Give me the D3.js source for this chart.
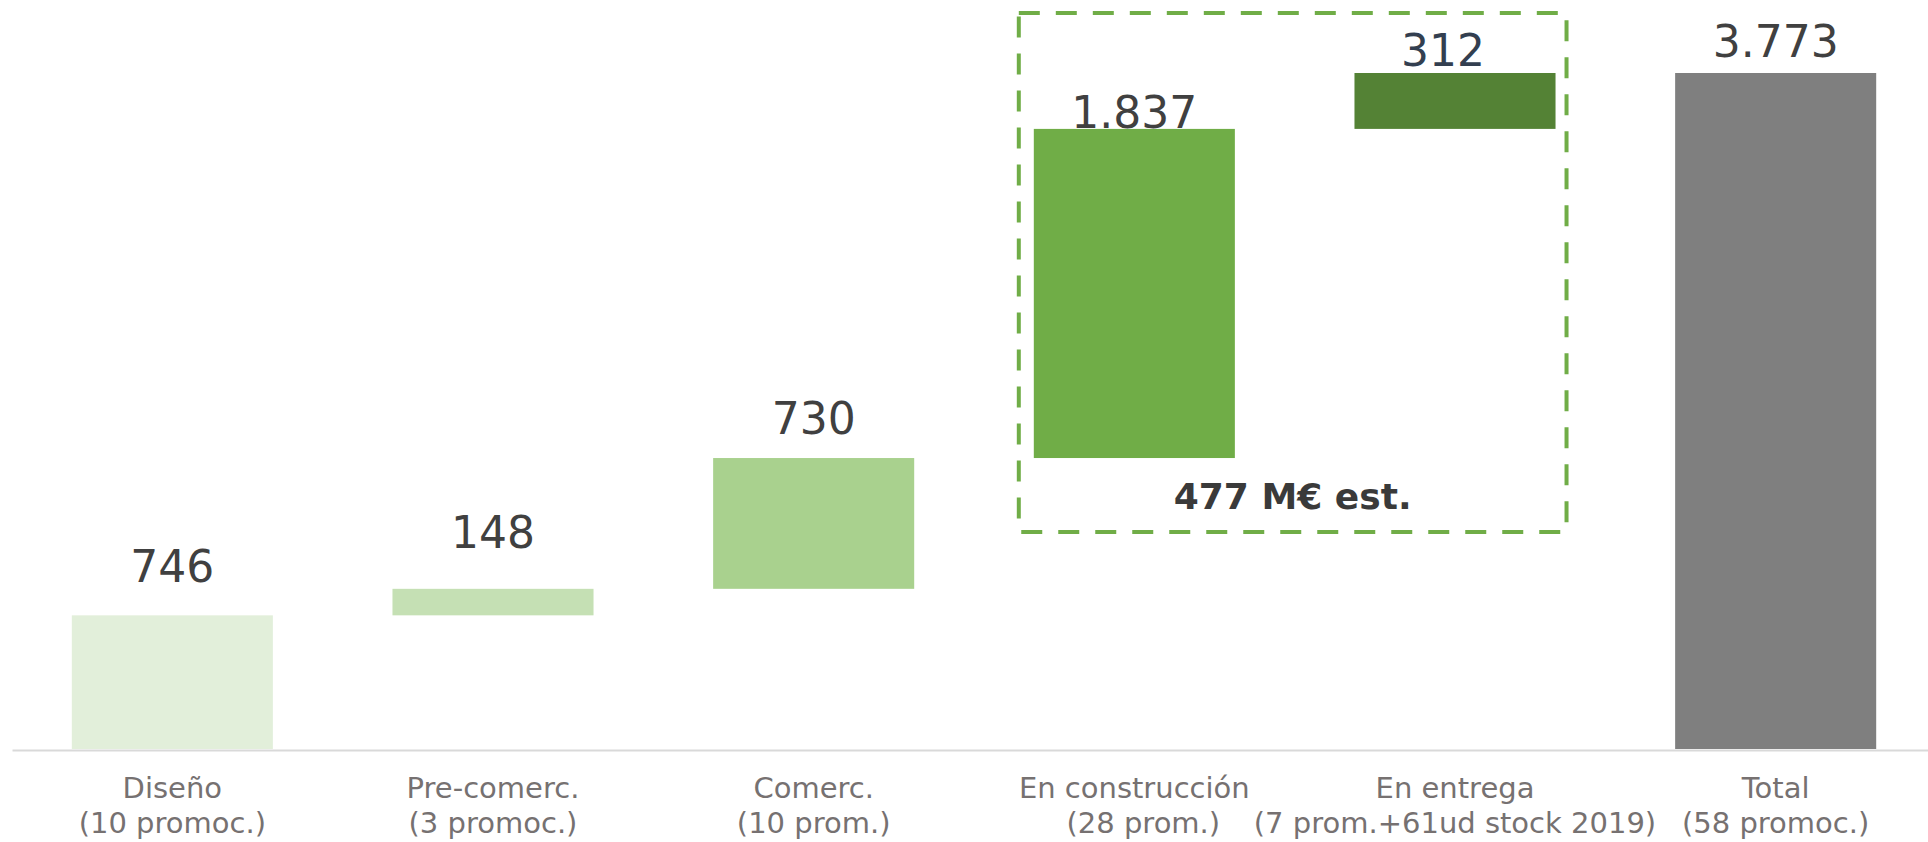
<!DOCTYPE html>
<html>
<head>
<meta charset="utf-8">
<script src="https://cdn.jsdelivr.net/npm/d3@7"></script>
<style>
  html, body { margin: 0; padding: 0; background: #fff; }
  #chart-container { width: 1928px; height: 842px; }
  text { font-family: "DejaVu Sans", Verdana, sans-serif; }
</style>
</head>
<body>
<div id="chart-container"></div>
<script>
// waterfall data
const stages = ["Diseño", "Pre-comerc.", "Comerc.", "En construcción", "En entrega", "Total"];
const stageNotes = ["(10 promoc.)", "(3 promoc.)", "(10 prom.)", "(28 prom.)", "(7 prom.+61ud stock 2019)", "(58 promoc.)"];
const stepValues = [746, 148, 730, 1837, 312];
const boxNote = "477 M€ est.";

const barColors = ["#E2EFDA", "#C5E0B4", "#A9D18E", "#70AD47", "#548235", "#7F7F7F"];
const labelColors = ["#404040", "#404040", "#404040", "#404040", "#333F50", "#404040"];
// manual nudges of the value labels, as in the original
const labelDy = [-33, -41, -24, -1, -7, -16];
const labelDx = [0, 0, 0, 0, -12, 0];

const W = 1928, H = 842;
const baseY = 749;

const svg = d3.select("#chart-container")
  .append("svg")
  .attr("width", W)
  .attr("height", H);

// build start/end of each floating bar
let run = 0;
const bars = stepValues.map((v, i) => {
  const d = { name: stages[i], start: run, end: run + v, value: v };
  run += v;
  return d;
});
bars.push({ name: stages[5], start: 0, end: run, value: run, total: true });

const fmt = d3.formatLocale({ decimal: ",", thousands: ".", grouping: [3], currency: ["", "€"] }).format(",");

const x = d3.scaleBand()
  .domain(stages)
  .range([12, 1936])
  .paddingInner(0.373)
  .paddingOuter(0.1865);

const y = d3.scaleLinear()
  .domain([0, d3.max(bars, d => d.end)])
  .range([baseY, 73]);

// baseline
svg.append("g")
  .attr("transform", `translate(0,${baseY + 1})`)
  .call(d3.axisBottom(x).tickSize(0).tickFormat(""))
  .call(g => g.select(".domain").attr("stroke", "#D9D9D9").attr("stroke-width", 2));

// dashed box around construction + delivery
const boxL = x("En construcción") - 15;
const boxR = x("En entrega") + x.bandwidth() + 11;
svg.append("rect")
  .attr("x", boxL).attr("y", 13)
  .attr("width", boxR - boxL).attr("height", 532 - 13)
  .attr("fill", "none")
  .attr("stroke", "#70AD47")
  .attr("stroke-width", 4)
  .attr("stroke-dasharray", "21,16");

svg.append("text")
  .attr("x", (boxL + boxR) / 2).attr("y", 509)
  .attr("text-anchor", "middle")
  .attr("font-size", 36)
  .attr("font-weight", "bold")
  .attr("fill", "#3A3A3A")
  .text(boxNote);

svg.selectAll("rect.bar")
  .data(bars)
  .join("rect")
  .attr("class", "bar")
  .attr("x", d => x(d.name))
  .attr("width", x.bandwidth())
  .attr("y", d => y(d.end))
  .attr("height", d => y(d.start) - y(d.end))
  .attr("fill", (d, i) => barColors[i]);

svg.selectAll("text.val")
  .data(bars)
  .join("text")
  .attr("class", "val")
  .attr("x", (d, i) => x(d.name) + x.bandwidth() / 2 + labelDx[i])
  .attr("y", (d, i) => y(d.end) + labelDy[i])
  .attr("text-anchor", "middle")
  .attr("font-size", 44)
  .attr("fill", (d, i) => labelColors[i])
  .text(d => fmt(d.value));

// two-line category labels
const cat = svg.selectAll("text.cat")
  .data(stages)
  .join("text")
  .attr("class", "cat")
  .attr("text-anchor", "middle")
  .attr("font-size", 29)
  .attr("fill", "#767171");

cat.append("tspan")
  .attr("x", d => x(d) + x.bandwidth() / 2)
  .attr("y", 798)
  .text(d => d);

cat.append("tspan")
  .attr("x", (d, i) => x(d) + x.bandwidth() / 2 + (i === 3 ? 9 : 0))
  .attr("y", 833)
  .text((d, i) => stageNotes[i]);
</script>
</body>
</html>
